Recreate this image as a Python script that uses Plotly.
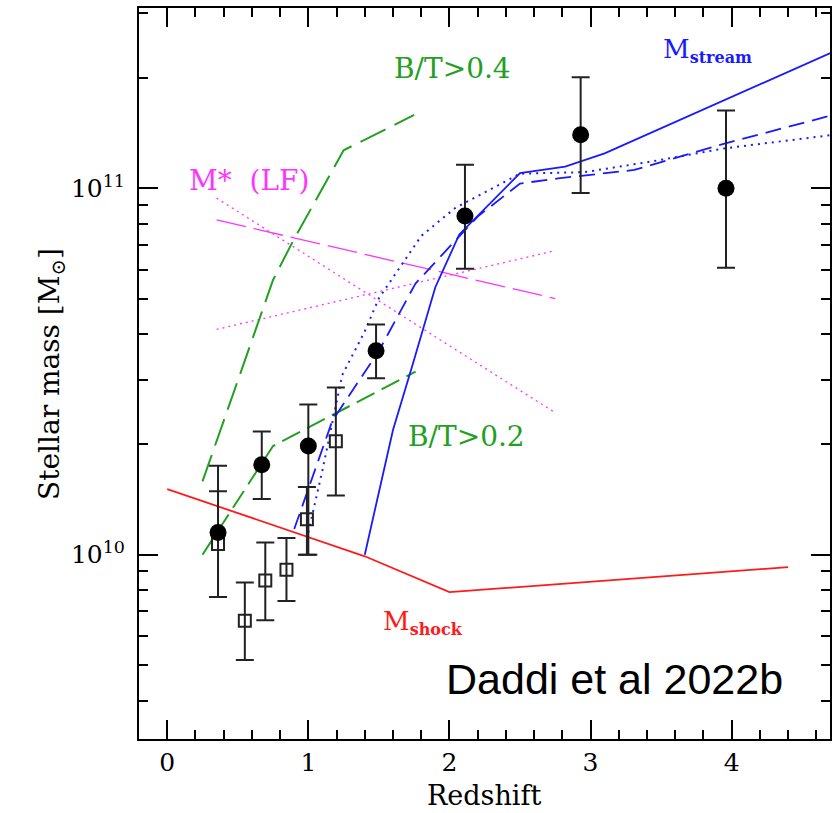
import plotly.graph_objects as go

# Filled circles: stellar mass estimates with error bars
circ_z = [0.36, 0.67, 1.0, 1.48, 2.11, 2.93, 3.96]
circ_m = [1.15e10, 1.76e10, 1.98e10, 3.6e10, 8.4e10, 1.40e11, 1.0e11]
circ_hi = [1.75e10, 2.17e10, 2.57e10, 4.25e10, 1.16e11, 2.01e11, 1.63e11]
circ_lo = [7.66e9, 1.42e10, 1.0e10, 3.03e10, 6.03e10, 9.7e10, 6.07e10]

# Open squares
sq_z = [0.36, 0.55, 0.695, 0.845, 0.99, 1.195]
sq_m = [1.07e10, 6.6e9, 8.5e9, 9.1e9, 1.25e10, 2.04e10]
sq_hi = [1.49e10, 8.4e9, 1.08e10, 1.11e10, 1.53e10, 2.86e10]
sq_lo = [7.66e9, 5.16e9, 6.62e9, 7.47e9, 1.0e10, 1.45e10]

# M_shock
shock_z = [0.0, 1.4, 2.0, 4.4]
shock_m = [1.51e10, 9.9e9, 7.9e9, 9.25e9]

# M_stream (solid, dashed, dotted)
stream_z = [1.4, 1.6, 1.74, 1.9, 2.07, 2.5, 2.82, 3.1, 4.7]
stream_m = [1.0e10, 2.19e10, 3.31e10, 5.37e10, 7.48e10, 1.10e11, 1.146e11, 1.245e11, 2.34e11]
stream_dash_z = [0.9, 1.17, 1.5, 1.76, 2.2, 2.5, 2.77, 3.31, 3.95, 4.7]
stream_dash_m = [1.175e10, 2.32e10, 3.6e10, 5.5e10, 8.37e10, 1.03e11, 1.064e11, 1.122e11, 1.324e11, 1.578e11]
stream_dot_z = [1.0, 1.1, 1.24, 1.4, 1.5, 1.8, 2.04, 2.5, 2.96, 3.43, 3.95, 4.7]
stream_dot_m = [1.15e10, 1.70e10, 3.09e10, 4.07e10, 5.01e10, 7.41e10, 8.83e10, 1.096e11, 1.107e11, 1.183e11, 1.285e11, 1.396e11]

# Bulge-to-total thresholds
bt04_z = [0.25, 0.62, 0.75, 0.89, 1.05, 1.25, 1.75]
bt04_m = [1.585e10, 4.07e10, 5.62e10, 7.16e10, 9.2e10, 1.27e11, 1.585e11]
bt02_z = [0.25, 0.75, 1.76]
bt02_m = [1.0e10, 1.98e10, 3.16e10]

# M* from luminosity functions
mstar_z = [0.35, 2.75]
mstar_m = [8.2e10, 5.0e10]
lf_down_z = [0.35, 2.75]
lf_down_m = [9.4e10, 2.44e10]
lf_up_z = [0.35, 2.73]
lf_up_m = [4.12e10, 6.73e10]

GREEN = "#22a022"
BLUE = "#1a1aff"
MAGENTA = "#ff33ff"
RED = "#ff1a1a"
SERIF = "DejaVu Serif"

fig = go.Figure()


def line(x, y, color, width, dash="solid"):
    fig.add_trace(go.Scatter(x=x, y=y, mode="lines",
                             line=dict(color=color, width=width, dash=dash),
                             showlegend=False, hoverinfo="skip"))


line(mstar_z, mstar_m, MAGENTA, 1.3, "30px,8px")
line(lf_down_z, lf_down_m, MAGENTA, 1.3, "2px,4px")
line(lf_up_z, lf_up_m, MAGENTA, 1.3, "2px,4px")
line(bt04_z, bt04_m, GREEN, 2, "28px,10px")
line(bt02_z, bt02_m, GREEN, 2, "20px,8px")
line(shock_z, shock_m, RED, 1.8)
line(stream_z, stream_m, BLUE, 1.8)
line(stream_dash_z, stream_dash_m, BLUE, 1.8, "16px,8px")
line(stream_dot_z, stream_dot_m, BLUE, 2, "2px,5px")

err_style = dict(type="data", symmetric=False, color="#222222", thickness=2, width=9)

fig.add_trace(go.Scatter(
    x=sq_z, y=sq_m, mode="markers",
    marker=dict(symbol="square-open", size=12, color="#222222", line=dict(width=2)),
    error_y=dict(array=[h - m for h, m in zip(sq_hi, sq_m)],
                 arrayminus=[m - l for m, l in zip(sq_m, sq_lo)], **err_style),
    showlegend=False))

fig.add_trace(go.Scatter(
    x=circ_z, y=circ_m, mode="markers",
    marker=dict(symbol="circle", size=17, color="black"),
    error_y=dict(array=[h - m for h, m in zip(circ_hi, circ_m)],
                 arrayminus=[m - l for m, l in zip(circ_m, circ_lo)], **err_style),
    showlegend=False))

# Labels
def label(text, x, y, color, size=28, anchor="center", family=SERIF, **kw):
    fig.add_annotation(text=text, x=x, y=y, xref="x", yref="y", showarrow=False,
                       xanchor=anchor, yanchor="middle",
                       font=dict(family=family, size=size, color=color), **kw)


label("B/T&gt;0.4", 2.02, 11.326, GREEN)
label("B/T&gt;0.2", 2.119, 10.322, GREEN)
label("M*  (LF)", 0.582, 11.021, MAGENTA)
label("M<sub><span style='font-size:16px;font-weight:bold'>stream</span></sub>",
      3.50, 11.375, BLUE, size=26, anchor="left")
label("M<sub><span style='font-size:16px;font-weight:bold'>shock</span></sub>",
      1.512, 9.815, RED, size=26, anchor="left")
label("Daddi et al 2022b", 3.17, 9.66, "black", size=43, family="Liberation Sans")

# Axis titles
fig.add_annotation(text="Redshift", x=2.246, y=0, xref="x", yref="paper",
                   yanchor="middle", yshift=-56, showarrow=False,
                   font=dict(family=SERIF, size=27, color="black"))
fig.add_annotation(text="Stellar mass [M<sub>⊙</sub>]", x=0, y=10.492,
                   xref="paper", yref="y", xshift=-108, showarrow=False,
                   textangle=-90, font=dict(family=SERIF, size=28, color="black"))

x_minor = [i / 5 for i in range(-1, 24) if i % 5 != 0]
y_minor = [k * 10 ** e for e in (9, 10, 11) for k in range(2, 10)]

fig.update_xaxes(
    range=[-0.2, 4.697], tickvals=[0, 1, 2, 3, 4], ticktext=["0", "1", "2", "3", "4"],
    ticks="inside", ticklen=19, tickwidth=2, tickcolor="black",
    minor=dict(tickvals=x_minor, ticks="inside", ticklen=9, tickwidth=1.5, tickcolor="black"),
    showline=True, linewidth=2, linecolor="black", mirror="allticks",
    showgrid=False, zeroline=False,
    tickfont=dict(family=SERIF, size=25, color="black"))

fig.update_yaxes(
    type="log", range=[9.497, 11.492],
    tickvals=[1e10, 1e11], ticktext=["10<sup>10</sup>", "10<sup>11</sup>"],
    ticks="inside", ticklen=19, tickwidth=2, tickcolor="black",
    minor=dict(tickvals=y_minor, ticks="inside", ticklen=9, tickwidth=1.5, tickcolor="black"),
    showline=True, linewidth=2, linecolor="black", mirror="allticks",
    showgrid=False, zeroline=False, ticklabelstandoff=7,
    tickfont=dict(family=SERIF, size=25, color="black"))

fig.update_layout(
    width=838, height=813,
    margin=dict(l=139, r=6, t=6, b=74),
    paper_bgcolor="white", plot_bgcolor="white",
    showlegend=False)

fig.write_html("out.html")
